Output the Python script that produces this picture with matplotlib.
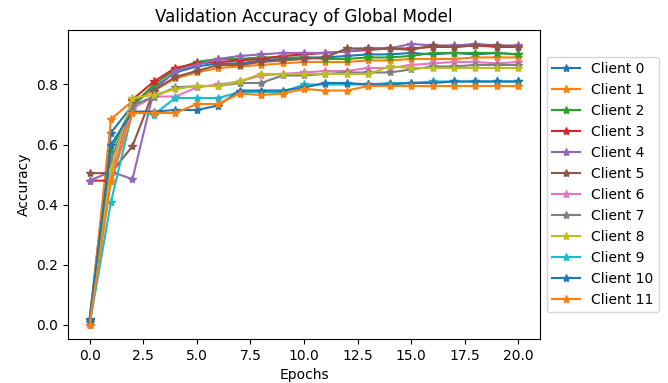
import numpy as np
import matplotlib
matplotlib.use("Agg")
import matplotlib.pyplot as plt

epochs = list(range(21))

client_0 = [0.02, 0.64, 0.73, 0.79, 0.84, 0.86, 0.87, 0.87, 0.88, 0.885, 0.89, 0.89, 0.895, 0.90, 0.90, 0.905, 0.90, 0.905, 0.90, 0.905, 0.90]
client_1 = [0.0, 0.685, 0.745, 0.78, 0.82, 0.84, 0.855, 0.86, 0.865, 0.87, 0.875, 0.875, 0.875, 0.88, 0.88, 0.885, 0.885, 0.885, 0.89, 0.89, 0.89]
client_2 = [0.01, 0.58, 0.73, 0.80, 0.85, 0.875, 0.885, 0.885, 0.89, 0.89, 0.89, 0.885, 0.885, 0.89, 0.89, 0.895, 0.905, 0.905, 0.905, 0.905, 0.90]
client_3 = [0.48, 0.48, 0.75, 0.81, 0.855, 0.87, 0.875, 0.88, 0.885, 0.895, 0.90, 0.905, 0.91, 0.915, 0.92, 0.92, 0.925, 0.925, 0.93, 0.925, 0.925]
client_4 = [0.48, 0.51, 0.485, 0.78, 0.845, 0.865, 0.885, 0.895, 0.90, 0.905, 0.905, 0.905, 0.91, 0.92, 0.92, 0.935, 0.93, 0.93, 0.935, 0.93, 0.93]
client_5 = [0.505, 0.505, 0.595, 0.78, 0.825, 0.845, 0.865, 0.865, 0.875, 0.88, 0.885, 0.89, 0.92, 0.92, 0.92, 0.915, 0.93, 0.925, 0.93, 0.93, 0.925]
client_6 = [0.0, 0.5, 0.72, 0.76, 0.76, 0.79, 0.80, 0.81, 0.83, 0.835, 0.84, 0.845, 0.845, 0.855, 0.855, 0.865, 0.87, 0.875, 0.875, 0.87, 0.875]
client_7 = [0.0, 0.55, 0.73, 0.76, 0.79, 0.795, 0.795, 0.805, 0.805, 0.83, 0.83, 0.835, 0.84, 0.84, 0.84, 0.85, 0.86, 0.86, 0.865, 0.865, 0.865]
client_8 = [0.0, 0.52, 0.755, 0.765, 0.785, 0.795, 0.795, 0.81, 0.835, 0.835, 0.835, 0.835, 0.835, 0.835, 0.86, 0.855, 0.855, 0.855, 0.855, 0.855, 0.855]
client_9 = [0.0, 0.41, 0.71, 0.70, 0.755, 0.755, 0.755, 0.775, 0.775, 0.775, 0.80, 0.80, 0.80, 0.80, 0.805, 0.805, 0.81, 0.81, 0.81, 0.81, 0.81]
client_10 = [0.015, 0.60, 0.71, 0.71, 0.715, 0.715, 0.73, 0.78, 0.78, 0.78, 0.79, 0.805, 0.805, 0.80, 0.80, 0.805, 0.805, 0.81, 0.81, 0.81, 0.81]
client_11 = [0.0, 0.48, 0.705, 0.705, 0.705, 0.735, 0.735, 0.77, 0.765, 0.77, 0.785, 0.78, 0.78, 0.795, 0.795, 0.795, 0.795, 0.795, 0.795, 0.795, 0.795]

clients = [client_0, client_1, client_2, client_3, client_4, client_5,
           client_6, client_7, client_8, client_9, client_10, client_11]

fig = plt.figure(figsize=(6.68, 3.83), dpi=100)
ax = fig.add_axes([0.102, 0.115, 0.706, 0.807])

for i, acc in enumerate(clients):
    ax.plot(epochs, acc, marker="*", label=f"Client {i}")

ax.set_title("Validation Accuracy of Global Model")
ax.set_xlabel("Epochs")
ax.set_ylabel("Accuracy")
ax.legend(loc="center left", bbox_to_anchor=(1.0, 0.5))

fig.savefig("out.png", dpi=100)
